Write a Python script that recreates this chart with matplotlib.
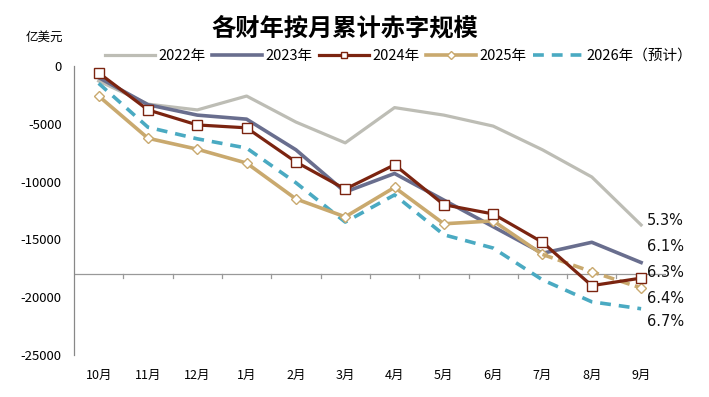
import numpy as np
import matplotlib
matplotlib.use('Agg')
from matplotlib import pyplot as plt

plt.rcParams['font.family'] = ['Noto Sans CJK SC', 'DejaVu Sans']

months = ['10月', '11月', '12月', '1月', '2月', '3月', '4月', '5月', '6月', '7月', '8月', '9月']
fy2022 = [-1300, -3300, -3800, -2600, -4850, -6650, -3600, -4250, -5200, -7250, -9600, -13750]
fy2023 = [-1000, -3350, -4250, -4600, -7250, -10900, -9300, -11600, -13900, -16200, -15250, -17000]
fy2024 = [-600, -3800, -5100, -5350, -8300, -10650, -8550, -12000, -12800, -15250, -19000, -18350]
fy2025 = [-2600, -6250, -7200, -8400, -11500, -13050, -10500, -13650, -13400, -16300, -17800, -19200]
fy2026 = [-1500, -5300, -6300, -7100, -10100, -13500, -11150, -14600, -15750, -18500, -20400, -21000]
end_labels = ['5.3%', '6.1%', '6.3%', '6.4%', '6.7%']
end_label_y = [-13350, -15600, -17900, -20100, -22100]

c22 = '#BDBDB5'
c23 = '#696E8E'
c24 = '#7B2410'
c25 = '#C9A96E'
c26 = '#4AAAC2'

fig = plt.figure(figsize=(7.09, 3.97), dpi=100)
ax = fig.add_axes([0.1044, 0.1058, 0.8346, 0.728])
x = np.arange(len(months))

ax.plot(x, fy2022, color=c22, lw=2.3, zorder=2)
ax.plot(x, fy2023, color=c23, lw=2.6, zorder=3)
ax.plot(x, fy2026, color=c26, lw=2.6, ls=(0, (3, 2.2)), zorder=4)
# 2025: actual to 7月, dashed estimate afterwards
ax.plot(x[:10], fy2025[:10], color=c25, lw=2.6, zorder=5,
        marker='D', ms=5, mfc='white', mec=c25, mew=1)
ax.plot(x[9:], fy2025[9:], color=c25, lw=2.6, ls=(0, (3, 1.5)), zorder=5,
        marker='D', ms=5, mfc='white', mec=c25, mew=1, markevery=[1, 2])
ax.plot(x, fy2024, color=c24, lw=2.3, zorder=6,
        marker='s', ms=7.5, mfc='white', mec=c24, mew=1)

# legend proxies
h22, = ax.plot([], [], color=c22, lw=2.3, label='2022年')
h23, = ax.plot([], [], color=c23, lw=2.6, label='2023年')
h24, = ax.plot([], [], color=c24, lw=2.3, marker='s', ms=5, mfc='white', mec=c24, mew=1, label='2024年')
h25, = ax.plot([], [], color=c25, lw=2.6, marker='D', ms=4, mfc='white', mec=c25, mew=1, label='2025年')
h26, = ax.plot([], [], color=c26, lw=2.6, ls=(0, (3, 2.2)), label='2026年（预计）')
fig.legend(handles=[h22, h23, h24, h25, h26], loc='center', bbox_to_anchor=(0.562, 0.859),
           ncol=5, frameon=False, fontsize=10.5, handlelength=3.4, handletextpad=0.25,
           columnspacing=0.45)

for lab, yv in zip(end_labels, end_label_y):
    ax.text(11.12, yv, lab, fontsize=10.5, va='center', ha='left', color='#111111',
            family=['DejaVu Sans'])

ax.set_xlim(-0.5, 11.5)
ax.set_ylim(-25000, 0)
ax.set_yticks([0, -5000, -10000, -15000, -20000, -25000])
ax.set_yticklabels(['0', '-5000', '-10000', '-15000', '-20000', '-25000'])
ax.tick_params(axis='y', length=0, labelsize=9.5, pad=9)

# category axis crossing at -18000, labels kept at bottom
ax.set_xticks(x)
ax.set_xticklabels(months)
ax.tick_params(axis='x', length=0, labelsize=9, pad=10)
ax.axhline(-18000, color='#999999', lw=0.9, zorder=1)
for b in np.arange(0.5, 11.5, 1.0):
    ax.plot([b, b], [-18000, -18350], color='#999999', lw=0.9, zorder=1)

for side in ['top', 'right', 'bottom']:
    ax.spines[side].set_visible(False)
ax.spines['left'].set_color('#888888')
ax.spines['left'].set_linewidth(0.9)

fig.text(0.487, 0.928, '各财年按月累计赤字规模', ha='center', va='center', fontsize=17.5,
         fontweight='bold')
fig.text(0.063, 0.905, '亿美元', ha='center', va='center', fontsize=9)

plt.savefig('out.png', dpi=100)
